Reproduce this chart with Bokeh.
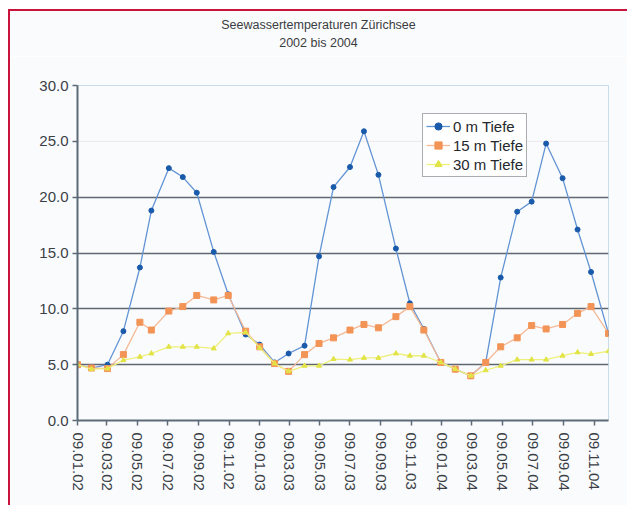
import numpy as np
from bokeh.plotting import figure
from bokeh.layouts import column
from bokeh.models import Range1d, FixedTicker, NumeralTickFormatter, Span, Div
from bokeh.embed import file_html
from bokeh.resources import INLINE

# ---- data -------------------------------------------------------------
dates = ["2002-01-09", "2002-02-06", "2002-03-10", "2002-04-11", "2002-05-14", "2002-06-06",
         "2002-07-11", "2002-08-08", "2002-09-05", "2002-10-09", "2002-11-07", "2002-12-12",
         "2003-01-09", "2003-02-08", "2003-03-08", "2003-04-09", "2003-05-08", "2003-06-06",
         "2003-07-09", "2003-08-06", "2003-09-04", "2003-10-09", "2003-11-06", "2003-12-04",
         "2004-01-07", "2004-02-05", "2004-03-07", "2004-04-06", "2004-05-06", "2004-06-08",
         "2004-07-07", "2004-08-05", "2004-09-07", "2004-10-07", "2004-11-03", "2004-12-08"]

t0m = [5.0, 4.7, 5.0, 8.0, 13.7, 18.8, 22.6, 21.8, 20.4, 15.1, 11.3, 7.7,
       6.8, 5.2, 6.0, 6.7, 14.7, 20.9, 22.7, 25.9, 22.0, 15.4, 10.5, 8.2,
       5.2, 4.6, 4.0, 5.2, 12.8, 18.7, 19.6, 24.8, 21.7, 17.1, 13.3, 7.8]
t15m = [5.0, 4.7, 4.65, 5.9, 8.8, 8.1, 9.8, 10.2, 11.2, 10.8, 11.2, 8.0,
        6.6, 5.1, 4.4, 5.9, 6.9, 7.4, 8.1, 8.6, 8.3, 9.3, 10.2, 8.1,
        5.2, 4.6, 4.0, 5.2, 6.6, 7.4, 8.5, 8.2, 8.6, 9.6, 10.2, 7.8]
t30m = [5.0, 4.6, 4.65, 5.4, 5.7, 6.0, 6.6, 6.6, 6.6, 6.45, 7.8, 7.9,
        6.5, 5.1, 4.4, 4.9, 4.9, 5.5, 5.45, 5.6, 5.6, 6.0, 5.8, 5.8,
        5.2, 4.6, 4.0, 4.5, 4.9, 5.45, 5.45, 5.45, 5.8, 6.1, 5.95, 6.2]

series_names = ["0 m Tiefe", "15 m Tiefe", "30 m Tiefe"]

tick_dates = ["2002-01-09", "2002-03-09", "2002-05-09", "2002-07-09", "2002-09-09", "2002-11-09",
              "2003-01-09", "2003-03-09", "2003-05-09", "2003-07-09", "2003-09-09", "2003-11-09",
              "2004-01-09", "2004-03-09", "2004-05-09", "2004-07-09", "2004-09-09", "2004-11-09"]
tick_labels = ["09.01.02", "09.03.02", "09.05.02", "09.07.02", "09.09.02", "09.11.02",
               "09.01.03", "09.03.03", "09.05.03", "09.07.03", "09.09.03", "09.11.03",
               "09.01.04", "09.03.04", "09.05.04", "09.07.04", "09.09.04", "09.11.04"]
y_ticks = [0, 5, 10, 15, 20, 25, 30]

title_lines = ["Seewassertemperaturen Zürichsee", "2002 bis 2004"]

# ---- helpers ----------------------------------------------------------
epoch = np.datetime64("2002-01-01")
def days(lst):
    return [int(v) for v in (np.array(lst, dtype="datetime64[D]") - epoch).astype(int)]

x = days(dates)
xt = days(tick_dates)

FONT = "Liberation Sans"
BG = "#fafbfd"
RED = "#c8143c"

W = 617
TITLE_H = 45
H = 449
ML, MR, MT, MB = 67, 19, 29, 85

title = Div(text='<div style="padding-top:5px;">' + "<br>".join(title_lines) + "</div>",
            width=W, height=TITLE_H, margin=0,
            styles={"text-align": "center", "font-family": FONT, "font-size": "12.5px",
                    "line-height": "18px", "color": "#3a3d42", "background-color": BG})

p = figure(width=W, height=H, output_backend="svg", toolbar_location=None,
           x_range=Range1d(x[0], x[-1]), y_range=Range1d(0, 30),
           min_border_left=ML, min_border_right=MR, min_border_top=MT, min_border_bottom=MB,
           background_fill_color=BG, border_fill_color=BG, margin=0)

p.outline_line_color = "#c9dcea"
p.outline_line_width = 1

# grid
p.xgrid.visible = False
p.ygrid.ticker = FixedTicker(ticks=[5, 10, 15, 20])
p.ygrid.grid_line_color = "#5f6870"
p.ygrid.grid_line_width = 1.6
p.add_layout(Span(location=25, dimension="width", line_color="#ece6ea", line_width=1, level="underlay"))

# axes
for ax in (p.xaxis[0], p.yaxis[0]):
    ax.axis_line_color = "#5d6b78"
    ax.axis_line_width = 2
    ax.major_tick_line_color = "#5d6b78"
    ax.major_tick_line_width = 1.5
    ax.major_tick_in = 0
    ax.major_tick_out = 5
    ax.minor_tick_line_color = None
    ax.major_label_text_font = FONT
    ax.major_label_text_font_size = "15px"
    ax.major_label_text_color = "#3a3f46"

p.yaxis.ticker = FixedTicker(ticks=y_ticks)
p.yaxis.formatter = NumeralTickFormatter(format="0.0")
p.yaxis.major_label_standoff = 4

p.xaxis.ticker = FixedTicker(ticks=xt)
p.xaxis.major_label_overrides = {t: lab for t, lab in zip(xt, tick_labels)}
p.xaxis.major_label_orientation = "vertical"
p.xaxis.major_label_standoff = 7

# series
specs = [
    (t0m, "#6294d4", "#1a5aaa", "circle", 5),
    (t15m, "#f5b996", "#f39457", "square", 6),
    (t30m, "#eef07c", "#e2e446", "triangle", 5),
]
for (vals, lc, mc, mk, sz), name in zip(specs, series_names):
    p.line(x, vals, line_color=lc, line_width=1.3, legend_label=name)
    p.scatter(x, vals, marker=mk, size=sz, fill_color=mc, line_color=mc, legend_label=name)

leg = p.legend[0]
leg.location = (345, 243)
leg.border_line_color = "#555a60"
leg.border_line_width = 1.5
leg.background_fill_color = "#ffffff"
leg.background_fill_alpha = 1
leg.label_text_font = FONT
leg.label_text_font_size = "15px"
leg.label_text_color = "#25282c"
leg.padding = 3
leg.spacing = 1
leg.margin = 0
leg.glyph_width = 24
leg.glyph_height = 18
leg.label_height = 18
leg.label_standoff = 3

layout = column(title, p, spacing=0, margin=(9, 0, 0, 8),
                styles={"border-left": "2px solid " + RED, "border-top": "2px solid " + RED})

open("out.html", "w").write(file_html(layout, INLINE))
